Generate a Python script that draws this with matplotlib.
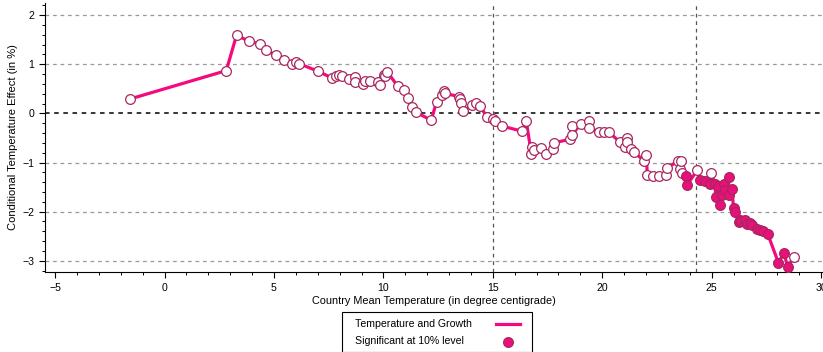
import numpy as np
import matplotlib.pyplot as plt
from matplotlib.ticker import MultipleLocator
from matplotlib.lines import Line2D
from matplotlib.patches import Rectangle

plt.rcParams['font.family'] = ['Liberation Sans Narrow', 'Liberation Sans', 'DejaVu Sans']

# country mean temperature, conditional effect, significance flag (1 = significant at 10%)
temp = [-1.6, 2.82, 3.29, 3.85, 4.38, 4.64, 5.08, 5.45, 5.83, 6.01, 6.16, 7.00,
        7.65, 7.82, 7.99, 8.13, 8.43, 8.69, 8.71, 9.05, 9.15, 9.38, 9.76, 9.86,
        10.03, 10.09, 10.17, 10.66, 10.92, 11.12, 11.31, 11.51, 12.18, 12.43, 12.69, 12.76,
        12.81, 13.45, 13.50, 13.55, 13.63, 14.07, 14.22, 14.40, 14.73, 15.02, 15.11, 15.42,
        16.32, 16.53, 16.76, 16.81, 16.86, 17.20, 17.45, 17.74, 17.78, 18.51, 18.60, 18.64,
        19.01, 19.38, 19.40, 19.85, 20.06, 20.30, 20.82, 21.05, 21.11, 21.15, 21.30, 21.43,
        21.93, 22.01, 22.06, 22.33, 22.60, 22.90, 22.97, 23.45, 23.57, 23.62, 23.64, 23.84,
        23.89, 24.35, 24.47, 24.70, 24.93, 24.97, 25.16, 25.18, 25.31, 25.36, 25.47, 25.58,
        25.62, 25.77, 25.79, 25.92, 26.00, 26.07, 26.27, 26.30, 26.34, 26.53, 26.60, 26.76,
        26.83, 27.06, 27.21, 27.33, 27.56, 28.05, 28.30, 28.47, 28.78]
effect = [0.29, 0.87, 1.59, 1.47, 1.41, 1.29, 1.18, 1.09, 1.01, 1.05, 1.01, 0.86,
          0.72, 0.77, 0.79, 0.76, 0.70, 0.75, 0.64, 0.59, 0.65, 0.66, 0.64, 0.57,
          0.79, 0.76, 0.85, 0.55, 0.47, 0.31, 0.13, 0.02, -0.14, 0.23, 0.38, 0.45,
          0.41, 0.34, 0.30, 0.21, 0.04, 0.17, 0.21, 0.16, -0.07, -0.12, -0.16, -0.26,
          -0.36, -0.16, -0.82, -0.68, -0.75, -0.71, -0.82, -0.73, -0.60, -0.53, -0.26, -0.43,
          -0.21, -0.16, -0.30, -0.37, -0.37, -0.38, -0.59, -0.68, -0.51, -0.58, -0.73, -0.78,
          -0.97, -0.84, -1.25, -1.28, -1.27, -1.25, -1.11, -0.97, -1.13, -0.97, -1.21, -1.28,
          -1.45, -1.15, -1.36, -1.37, -1.44, -1.22, -1.43, -1.70, -1.48, -1.87, -1.66, -1.43,
          -1.55, -1.30, -1.66, -1.53, -1.92, -2.00, -2.22, -2.16, -2.18, -2.17, -2.25, -2.24,
          -2.27, -2.35, -2.37, -2.39, -2.45, -3.04, -2.84, -3.12, -2.92]
signif = [0] * 83 + [1, 1, 0, 1, 1, 1, 0] + [1] * 26 + [0]

temp = np.array(temp)
effect = np.array(effect)
signif = np.array(signif, dtype=bool)

line_col = '#f50a7d'
fill_col = '#e8107a'
edge_col = '#a8275f'

W, H = 823, 352
fig = plt.figure(figsize=(W / 100, H / 100), dpi=100)
ax = fig.add_axes([0.055, 0.227, 0.944, 0.765])

for y in [-3, -2, -1, 1, 2]:
    ax.axhline(y, color='#999999', lw=0.9, ls=(0, (3, 3)), zorder=0)
ax.axhline(0, color='black', lw=1.1, ls=(0, (3, 3)), zorder=0)
for xv in [15, 24.3]:
    ax.axvline(xv, color='#555555', lw=0.9, ls=(0, (3, 3)), zorder=0)

ax.plot(temp, effect, color=line_col, lw=2.3, zorder=2)
ax.plot(temp[~signif], effect[~signif], 'o', ms=7, mfc='white', mec=edge_col, mew=0.9, zorder=3)
ax.plot(temp[signif], effect[signif], 'o', ms=7, mfc=fill_col, mec=edge_col, mew=0.9, zorder=4)

ax.set_xlim(-5.45, 30.05)
ax.set_ylim(-3.23, 2.25)
ax.xaxis.set_major_locator(MultipleLocator(5))
ax.xaxis.set_minor_locator(MultipleLocator(1))
ax.yaxis.set_major_locator(MultipleLocator(1))
ax.yaxis.set_minor_locator(MultipleLocator(0.2))
ax.tick_params(which='major', direction='out', length=4.5, width=0.8, labelsize=7.6)
ax.tick_params(which='minor', direction='out', length=2.5, width=0.7)
ax.spines['top'].set_visible(False)
ax.spines['right'].set_visible(False)

ax.set_xlabel('Country Mean Temperature (in degree centigrade)', fontsize=7.8, labelpad=2)
ax.set_ylabel('Conditional Temperature Effect (in %)', fontsize=8, labelpad=3)

# legend box below the plot: labels on the left, keys on the right
def fx(px):
    return px / W

def fy(py):
    return 1 - py / H

tf = fig.transFigure
fig.add_artist(Rectangle((fx(342), fy(351.5)), fx(532) - fx(342), fy(312) - fy(351.5),
                         transform=tf, fill=False, edgecolor='black', lw=0.8))
fig.text(fx(355), fy(324), 'Temperature and Growth', fontsize=7.6, va='center', ha='left')
fig.text(fx(355), fy(341.5), 'Significant at 10% level', fontsize=7.6, va='center', ha='left')
fig.add_artist(Line2D([fx(496), fx(520)], [fy(324), fy(324)], transform=tf,
                      color=line_col, lw=2.3))
fig.add_artist(Line2D([fx(508)], [fy(341.5)], transform=tf, ls='none', marker='o',
                      ms=7, mfc=fill_col, mec=edge_col, mew=0.9))

plt.savefig('out.png', dpi=100)
